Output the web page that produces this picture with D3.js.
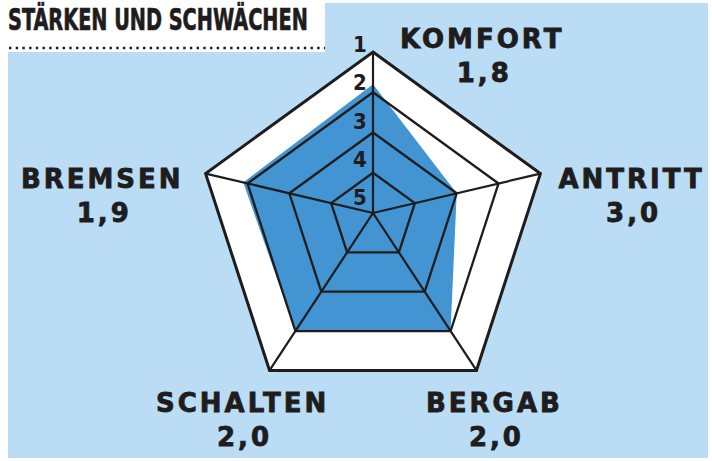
<!DOCTYPE html>
<html>
<head>
<meta charset="utf-8">
<script src="https://cdn.jsdelivr.net/npm/d3@7"></script>
<style>
  body { margin: 0; background: #fff; }
  svg { display: block; }
</style>
</head>
<body>
<svg id="chart" width="712" height="461"></svg>
<script>
// chart data
var axes = ["KOMFORT", "ANTRITT", "BERGAB", "SCHALTEN", "BREMSEN"];
var scores = [1.8, 3.0, 2.0, 2.0, 1.9];
var levels = [1, 2, 3, 4, 5];
var title = "STÄRKEN UND SCHWÄCHEN";

var svg = d3.select("#chart");
var ink = "#1e1c1c", blue = "#4294d2", pale = "#badcf4";

// light blue panel with white notch for the title
svg.append("path")
  .attr("d", "M8,52 H325 V3 H708 V458 H8 Z")
  .attr("fill", pale);

// title squeezed to 300px wide with a transform (keeps the real box small)
var tt = svg.append("text")
  .attr("x", 0).attr("y", 0)
  .style("font-family", "'DejaVu Sans Condensed', 'DejaVu Sans'")
  .style("font-weight", "bold")
  .style("font-size", "31px")
  .attr("fill", ink)
  .attr("stroke", ink).attr("stroke-width", 0.7)
  .text(title);
var tw = tt.node().getComputedTextLength();
tt.attr("transform", "translate(8,30) scale(" + (300 / tw) + ",1)");

svg.append("line")
  .attr("x1", 9).attr("x2", 325).attr("y1", 48).attr("y2", 48)
  .attr("stroke", ink).attr("stroke-width", 2.4)
  .attr("stroke-dasharray", "2.4,4.3");

// geometry: outer pentagon regular, spokes meet a bit higher up
var cx = 373, cy = 228, R = 176;
var hub = [373, 213];
var s = d3.scaleLinear().domain([5, 1]).range([0, 1]);
var angle = d3.scaleLinear().domain([0, axes.length]).range([-Math.PI / 2, 1.5 * Math.PI]);

var outer = axes.map(function(d, i) {
  var a = angle(i);
  return [cx + R * Math.cos(a) - hub[0], cy + R * Math.sin(a) - hub[1]];
});

var pt = function(i, v) {
  return [hub[0] + s(v) * outer[i][0], hub[1] + s(v) * outer[i][1]];
};

var line = d3.line().curve(d3.curveLinearClosed);

// white pentagon
svg.append("path")
  .attr("d", line(axes.map(function(d, i) { return pt(i, 1); })))
  .attr("fill", "#fff");

// score polygon
svg.append("path")
  .attr("d", line(scores.map(function(v, i) { return pt(i, v); })))
  .attr("fill", blue);

// rings
svg.append("g").selectAll("path")
  .data(levels.slice(0, 4))
  .enter().append("path")
  .attr("d", function(l) { return line(axes.map(function(d, i) { return pt(i, l); })); })
  .attr("fill", "none")
  .attr("stroke", ink)
  .attr("stroke-linejoin", "miter")
  .attr("stroke-width", function(l) { return l == 1 ? 3 : 2.3; });

// spokes
svg.append("g").selectAll("line")
  .data(axes)
  .enter().append("line")
  .attr("x1", hub[0]).attr("y1", hub[1])
  .attr("x2", function(d, i) { return pt(i, 1)[0]; })
  .attr("y2", function(d, i) { return pt(i, 1)[1]; })
  .attr("stroke", ink).attr("stroke-width", 2.2);

// level numbers along the top spoke
var labelY = d3.scaleLinear().domain([1, 5]).range([52, 205]);
svg.append("g").selectAll("text")
  .data(levels)
  .enter().append("text")
  .attr("x", 360)
  .attr("y", function(l) { return labelY(l); })
  .attr("text-anchor", "middle")
  .style("font-family", "'DejaVu Sans Condensed', 'DejaVu Sans'")
  .style("font-weight", "bold")
  .style("font-size", "22px")
  .attr("fill", ink)
  .text(function(l) { return l; });

// axis labels + scores
var fmt = function(v) { return d3.format(".1f")(v).replace(".", ","); };
var place = [
  { dx: 27, dy: -4, anchor: "start" },
  { dx: 18, dy: 14, anchor: "start" },
  { dx: 18, dy: 42, anchor: "middle" },
  { dx: -27, dy: 42, anchor: "middle" },
  { dx: -22, dy: 14, anchor: "end" }
];

axes.forEach(function(name, i) {
  var v = pt(i, 1), p = place[i];
  var lab = svg.append("text")
    .attr("x", v[0] + p.dx).attr("y", v[1] + p.dy)
    .attr("text-anchor", p.anchor)
    .style("font-family", "'DejaVu Sans'")
    .style("font-weight", "bold")
    .style("font-size", "26px")
    .style("letter-spacing", "3px")
    .attr("fill", ink)
    .attr("stroke", ink).attr("stroke-width", 0.8)
    .text(name);
  var bb = lab.node().getBBox();
  svg.append("text")
    .attr("x", bb.x + bb.width / 2 + 2).attr("y", v[1] + p.dy + 34)
    .attr("text-anchor", "middle")
    .style("font-family", "'DejaVu Sans'")
    .style("font-weight", "bold")
    .style("font-size", "26px")
    .style("letter-spacing", "3px")
    .attr("fill", ink)
    .attr("stroke", ink).attr("stroke-width", 0.8)
    .text(fmt(scores[i]));
});
</script>
</body>
</html>
